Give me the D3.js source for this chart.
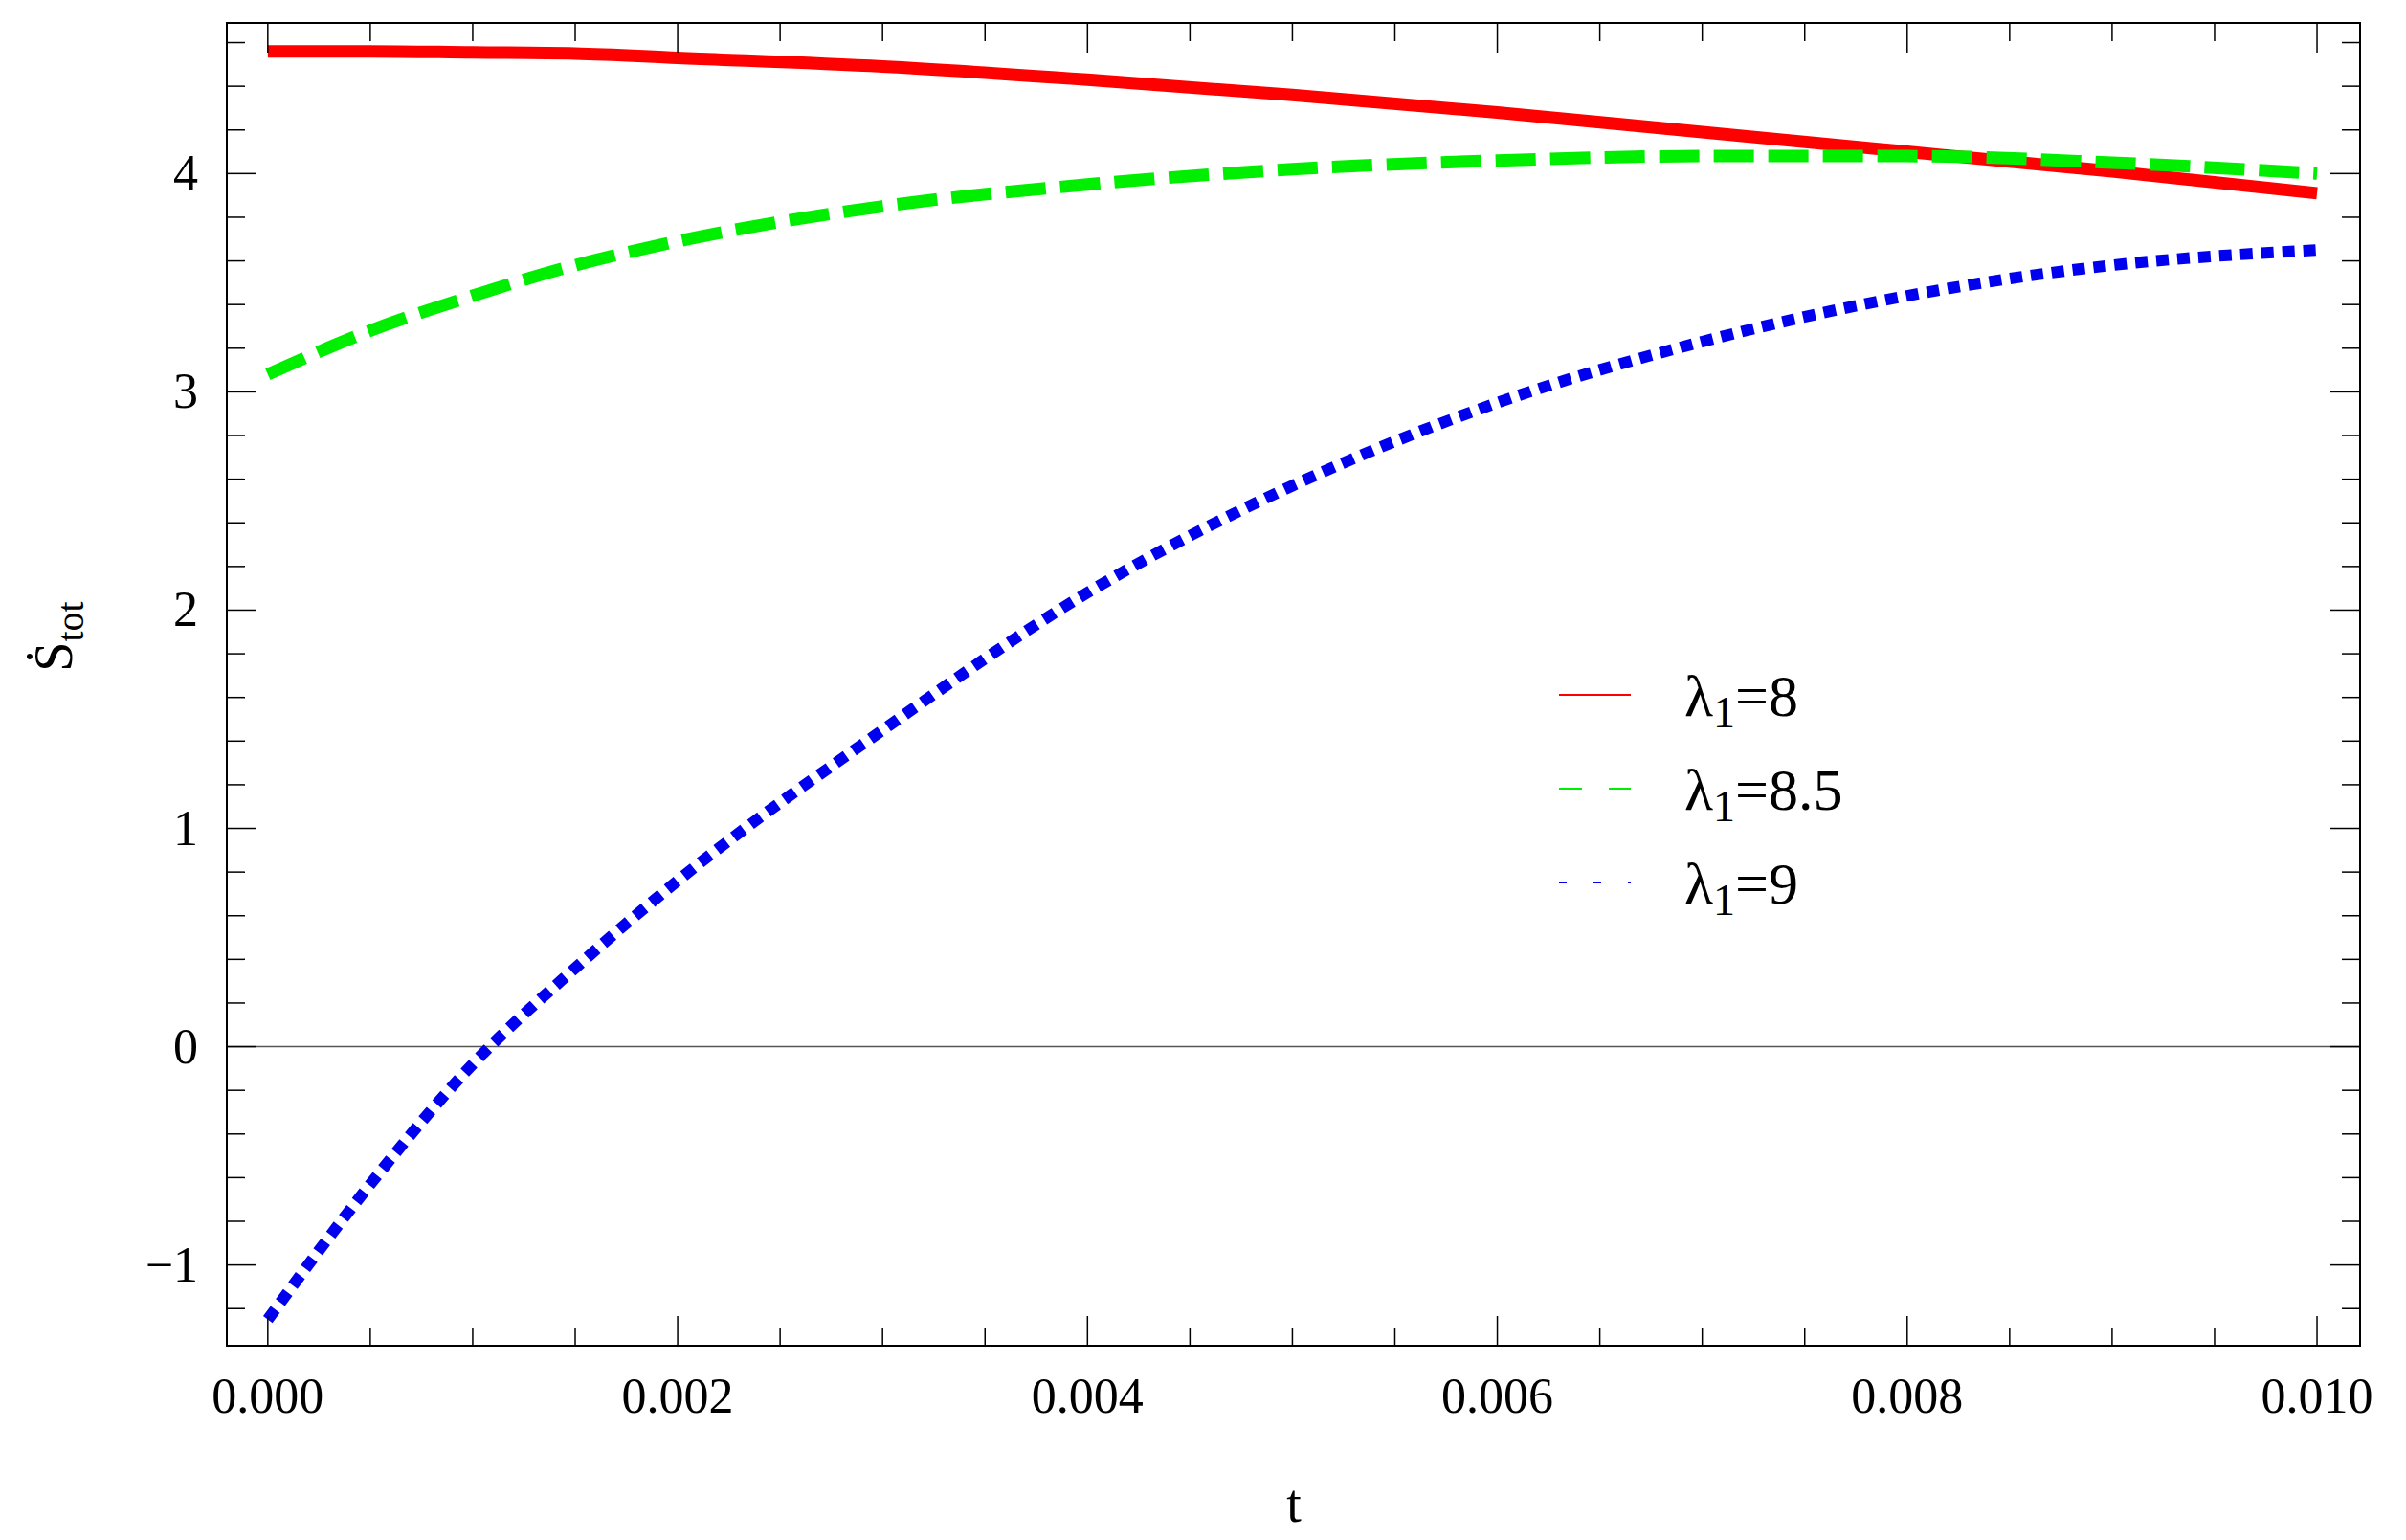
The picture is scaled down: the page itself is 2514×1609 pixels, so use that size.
<!DOCTYPE html>
<html><head><meta charset="utf-8">
<script src="https://cdn.jsdelivr.net/npm/d3@7"></script>
<style>body{margin:0;background:#fff}svg{display:block}text{font-family:"Liberation Serif","Times New Roman",serif}</style>
</head><body><div id="chart"></div>
<script>
// t values and curve values
const tValues = [0, 0.0005, 0.001, 0.0015, 0.002, 0.003, 0.004, 0.005, 0.006, 0.007, 0.008, 0.009, 0.010];
const red = [4.56, 4.56, 4.555, 4.55, 4.53, 4.49, 4.43, 4.36, 4.28, 4.19, 4.10, 4.01, 3.91];
const green = [3.08, 3.28, 3.44, 3.58, 3.69, 3.85, 3.95, 4.02, 4.06, 4.08, 4.08, 4.05, 4.00];
const blue = [-1.25, -0.63, -0.08, 0.36, 0.76, 1.45, 2.08, 2.57, 2.95, 3.23, 3.44, 3.58, 3.65];
const xTicks = [0, 0.002, 0.004, 0.006, 0.008, 0.010];
const yTicks = [-1, 0, 1, 2, 3, 4];
const series = [
  {name: "8", values: red, color: "#ff0000", dash: null, w: 13},
  {name: "8.5", values: green, color: "#00ee00", dash: "42 15", w: 13},
  {name: "9", values: blue, color: "#0000ee", dash: "13 9", w: 12}
];

const W = 2514, H = 1609;
const L = 237, R = 2466, T = 24, B = 1406;
const x = d3.scaleLinear().domain([-0.0002, 0.01021]).range([L, R]);
const y = d3.scaleLinear().domain([-1.37, 4.69]).range([B, T]);

const svg = d3.select('#chart').append('svg').attr('width', W).attr('height', H);

// zero line
svg.append('line').attr('x1', L).attr('x2', R).attr('y1', y(0)).attr('y2', y(0))
  .attr('stroke', '#555').attr('stroke-width', 1.5);

const clip = svg.append('defs').append('clipPath').attr('id', 'c')
  .append('rect').attr('x', L).attr('y', T).attr('width', R - L).attr('height', B - T);

const line = d3.line().x((d, i) => x(tValues[i])).y(d => y(d)).curve(d3.curveMonotoneX);
series.forEach(s => {
  svg.append('path').attr('d', line(s.values)).attr('fill', 'none')
    .attr('stroke', s.color).attr('stroke-width', s.w)
    .attr('stroke-dasharray', s.dash).attr('clip-path', 'url(#c)');
});

// frame
svg.append('rect').attr('x', L).attr('y', T).attr('width', R - L).attr('height', B - T)
  .attr('fill', 'none').attr('stroke', '#000').attr('stroke-width', 2);

const minorX = d3.range(0, 0.01001, 0.0005);
const minorY = d3.range(-1.2, 4.61, 0.2);
const tk = svg.append('g').attr('stroke', '#000').attr('stroke-width', 1.5);
minorX.forEach(v => {
  const major = xTicks.some(t => Math.abs(t - v) < 1e-9);
  const len = major ? 31 : 19;
  tk.append('line').attr('x1', x(v)).attr('x2', x(v)).attr('y1', B).attr('y2', B - len);
  tk.append('line').attr('x1', x(v)).attr('x2', x(v)).attr('y1', T).attr('y2', T + len);
});
minorY.forEach(v => {
  const major = yTicks.some(t => Math.abs(t - v) < 1e-9);
  const len = major ? 31 : 19;
  tk.append('line').attr('x1', L).attr('x2', L + len).attr('y1', y(v)).attr('y2', y(v));
  tk.append('line').attr('x1', R).attr('x2', R - len).attr('y1', y(v)).attr('y2', y(v));
});

svg.selectAll('.xl').data(xTicks).enter().append('text')
  .attr('x', d => x(d)).attr('y', B + 70).attr('text-anchor', 'middle')
  .attr('font-size', 52).text(d => d3.format('.3f')(d));
svg.selectAll('.yl').data(yTicks).enter().append('text')
  .attr('x', L - 30).attr('y', d => y(d) + 17).attr('text-anchor', 'end')
  .attr('font-size', 52).text(d => d < 0 ? '\u2212' + Math.abs(d) : d);

svg.append('text').attr('x', 1352).attr('y', 1590).attr('text-anchor', 'middle')
  .attr('font-size', 56).text('t');
const yl = svg.append('text').attr('transform', 'translate(75,665) rotate(-90)')
  .attr('text-anchor', 'middle').attr('font-size', 56);
yl.append('tspan').text('S\u0307');
yl.append('tspan').attr('font-size', 40).attr('dy', 12).text('tot');

// legend
series.forEach((s, i) => {
  const ly = 726 + i * 98;
  svg.append('line').attr('x1', 1629).attr('x2', 1704).attr('y1', ly).attr('y2', ly)
    .attr('stroke', s.color).attr('stroke-width', 2)
    .attr('stroke-dasharray', i === 0 ? null : (i === 1 ? '24 28' : '8 28'));
  const t = svg.append('text').attr('x', 1760).attr('y', ly + 22).attr('font-size', 62);
  t.append('tspan').text('\u03bb');
  t.append('tspan').attr('font-size', 46).attr('dy', 12).text('1');
  t.append('tspan').attr('dy', -12).text('=' + s.name);
});
</script></body></html>
